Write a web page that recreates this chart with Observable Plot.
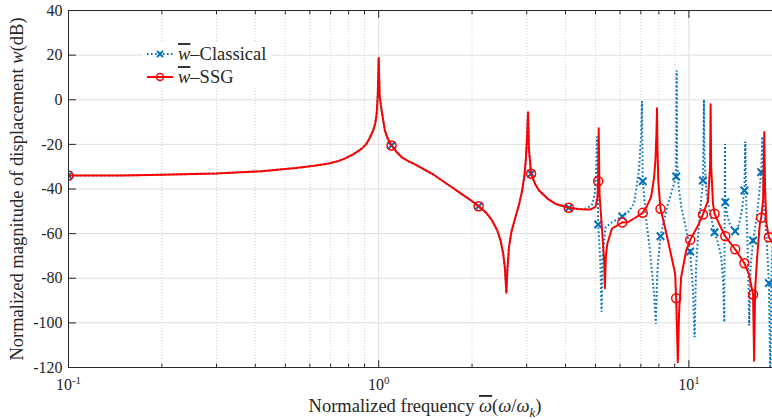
<!DOCTYPE html>
<html><head><meta charset="utf-8">
<script src="https://cdn.jsdelivr.net/npm/d3@7"></script>
<script src="https://cdn.jsdelivr.net/npm/@observablehq/plot@0.6"></script>
<style>
body{margin:0;background:#fff;}
#chart svg{display:block;}
</style></head><body><div id="chart"></div>
<script>
// ---- data (frequency ω̄, magnitude dB) ----
const sharedLow = [
  [0.1,-34.0],[0.15,-33.9],[0.2,-33.6],[0.3,-33.0],[0.42,-32.0],[0.54,-30.6],[0.62,-29.6],[0.69,-28.6],
  [0.74,-27.5],[0.78,-26.3],[0.83,-24.4],[0.88,-22.0],[0.91,-20.0],[0.93,-17.8],[0.96,-13.8],[0.975,-10.5],
  [0.985,-6.3],[0.993,2.0],[1.0,18.7],[1.007,2.0],[1.015,-2.0],[1.022,-4.8],[1.047,-13.8],[1.07,-17.5],
  [1.1,-20.5],[1.15,-23.9],[1.19,-25.9],[1.25,-27.6],[1.31,-29.0],[1.4,-31.2],[1.5,-33.5],[1.68,-38.2],
  [1.95,-44.4],[2.1,-47.7],[2.22,-50.6],[2.32,-54.1],[2.41,-58.5],[2.47,-63.0],[2.52,-69.0],[2.55,-75.0],
  [2.58,-86.5],[2.6,-76.0],[2.63,-66.0],[2.68,-59.0],[2.76,-52.6],[2.84,-46.5],[2.9,-40.7],[2.95,-34.0],
  [2.98,-27.0],[3.01,-16.0],[3.03,-5.6],[3.05,-22.0],[3.1,-33.2],[3.2,-38.0],[3.29,-40.7],[3.5,-44.3],
  [3.72,-46.7],[4.1,-48.4],[4.4,-49.0]
];
const classicalHigh = [
  [4.6,-49.0],[4.8,-47.8],[4.89,-46.7],[4.97,-42.0],[5.02,-33.0],[5.06,-16.5],[5.08,-35.0],[5.1,-55.9],
  [5.18,-72.0],[5.23,-95.0],[5.27,-70.0],[5.39,-57.1],[5.65,-54.9],[6.1,-52.3],[6.4,-50.0],[6.66,-46.5],
  [6.9,-31.7],[7.02,-15.0],[7.06,-0.6],[7.08,-20.0],[7.1,-36.5],[7.3,-55.0],[7.47,-66.0],[7.72,-87.0],
  [7.82,-100.4],[7.9,-80.0],[7.95,-73.4],[8.1,-61.2],[8.5,-48.2],[8.85,-40.0],[9.0,-36.5],[9.1,-34.4],
  [9.13,13.1],[9.16,-28.0],[9.25,-38.0],[9.45,-48.0],[9.8,-58.0],[10.1,-68.0],[10.3,-85.0],[10.43,-106.4],
  [10.55,-75.0],[10.7,-61.6],[10.9,-48.0],[11.1,-36.2],[11.15,-18.0],[11.18,0.0],[11.22,-25.0],[11.4,-42.0],
  [11.7,-51.0],[12.1,-59.4],[12.4,-64.0],[12.72,-70.6],[12.9,-82.0],[13.0,-99.7],[13.04,-60.0],[13.07,-19.8],
  [13.1,-45.9],[13.3,-52.0],[13.6,-56.5],[14.1,-58.9],[14.5,-56.0],[14.8,-50.0],[15.1,-40.7],[15.2,-18.7],
  [15.3,-45.0],[15.5,-72.0],[15.65,-101.2],[15.8,-76.0],[16.1,-63.1],[16.6,-51.0],[16.9,-40.0],[17.1,-32.5],
  [17.25,-16.5],[17.35,-40.0],[17.5,-50.0],[17.8,-62.0],[18.1,-82.2],[18.3,-125.0],[18.45,-80.0],[18.7,-55.0],
  [19.0,-35.0]
];
const ssgHigh = [
  [4.6,-49.2],[4.8,-49.2],[5.0,-48.0],[5.07,-44.0],[5.1,-36.5],[5.12,-12.8],[5.15,-42.0],[5.25,-58.6],
  [5.33,-72.0],[5.36,-84.5],[5.4,-70.0],[5.46,-64.4],[5.65,-57.7],[6.1,-55.0],[6.35,-54.9],[6.7,-53.0],
  [7.1,-50.7],[7.3,-48.0],[7.55,-43.7],[7.72,-35.0],[7.8,-27.2],[7.86,-15.0],[7.89,-3.8],[7.92,-22.0],
  [7.97,-37.0],[8.1,-48.9],[8.4,-58.0],[8.7,-67.6],[9.03,-78.0],[9.1,-89.0],[9.21,-117.6],[9.3,-95.0],
  [9.44,-79.5],[9.8,-67.6],[10.1,-62.8],[10.7,-56.4],[11.1,-51.4],[11.52,-45.2],[11.7,-30.0],[11.75,-2.0],
  [11.8,-30.0],[11.96,-46.7],[12.1,-51.1],[12.6,-56.5],[13.1,-61.2],[14.1,-67.0],[15.1,-73.3],[15.6,-78.0],
  [16.1,-87.3],[16.23,-117.0],[16.35,-85.0],[16.6,-70.6],[16.93,-55.6],[17.1,-52.9],[17.35,-45.0],[17.5,-14.5],
  [17.6,-40.0],[17.79,-55.6],[18.1,-61.6],[18.6,-64.0],[19.0,-66.0]
];
const markerFreqs = [0.1,1.1,2.1,3.1,4.1,5.1,6.1,7.1,8.1,9.1,10.1,11.1,12.1,13.1,14.1,15.1,16.1,17.1,18.1];
const seriesNames = ["w–Classical", "w–SSG"];
const xDomain = [0.1, 18.6];
const yDomain = [-120, 40];
const xMajorTicks = [0.1, 1, 10];
const xMinorTicks = [0.2,0.3,0.4,0.5,0.6,0.7,0.8,0.9,2,3,4,5,6,7,8,9];
const yTicks = [-120,-100,-80,-60,-40,-20,0,20,40];

// ---- build tables ----
const rows = (arr, s) => arr.map(([f, db]) => ({f, db, s}));
const classical = rows(sharedLow.concat(classicalHigh), seriesNames[0]);
const ssg = rows(sharedLow.concat(ssgHigh), seriesNames[1]);
const markerSet = new Set(markerFreqs);
const isMarker = d => markerSet.has(d.f);

const BLUE = "#0072BD", RED = "#FF0000", AX = "#262626";
const SERIF = "'Liberation Serif','Times New Roman',serif";
const DOTS = "1.6,2.4";
const tickShape = {draw(ctx, l) { ctx.moveTo(0, 0); ctx.lineTo(0, -l); }};
const tickMarks = (vals, opts) => Plot.vector(vals, {anchor: "start", shape: tickShape, stroke: AX, strokeWidth: 1, ...opts});

const plot = Plot.plot({
  width: 772, height: 419,
  marginLeft: 68, marginRight: 0, marginTop: 10, marginBottom: 52,
  x: {type: "log", domain: xDomain},
  y: {domain: yDomain},
  style: {fontFamily: SERIF, fontSize: "16px", color: AX, background: "white", overflow: "visible"},
  marks: [
    Plot.ruleX(xMinorTicks, {stroke: "#cfcfcf", strokeDasharray: "1,2"}),
    Plot.ruleX(xMajorTicks, {stroke: "#dedede"}),
    Plot.ruleY(yTicks, {stroke: "#dedede"}),
    Plot.line(classical, {x: "f", y: "db", stroke: BLUE, strokeWidth: 2, strokeDasharray: DOTS,
      strokeLinecap: "butt", strokeLinejoin: "miter", clip: true}),
    Plot.dot(classical, {filter: isMarker, x: "f", y: "db", symbol: "times", r: 3.5, stroke: BLUE, strokeWidth: 2, clip: true}),
    Plot.line(ssg, {x: "f", y: "db", stroke: RED, strokeWidth: 2, clip: true}),
    Plot.dot(ssg, {filter: isMarker, x: "f", y: "db", symbol: "circle", r: 4.5, stroke: RED, strokeWidth: 1.5, fill: "none", clip: true}),
    // box lines
    Plot.ruleY(yDomain, {stroke: AX}),
    Plot.ruleX([xDomain[0]], {stroke: AX}),
    // inward ticks
    tickMarks(xMajorTicks, {x: d => d, frameAnchor: "bottom", length: 7, rotate: 0}),
    tickMarks(xMinorTicks, {x: d => d, frameAnchor: "bottom", length: 3.5, rotate: 0}),
    tickMarks(xMajorTicks, {x: d => d, frameAnchor: "top", length: 7, rotate: 180}),
    tickMarks(xMinorTicks, {x: d => d, frameAnchor: "top", length: 3.5, rotate: 180}),
    tickMarks(yTicks, {y: d => d, frameAnchor: "left", length: 7, rotate: 90}),
    Plot.axisX({ticks: xMajorTicks, tickSize: 0, tickPadding: 11, label: null,
      tickFormat: d => String(Math.round(Math.log10(d)))}),
    Plot.axisY({ticks: yTicks, tickSize: 0, tickPadding: 6, label: null, tickFormat: d => String(d)})
  ]
});
document.getElementById("chart").appendChild(plot);

const svg = d3.select(plot);
// exponent labels 10^n
svg.selectAll('g[aria-label="x-axis tick label"] text').each(function() {
  const t = d3.select(this);
  const exp = t.text();
  t.text(null);
  t.append("tspan").text("10");
  t.append("tspan").attr("dy", "-0.5em").attr("font-size", "0.68em").text(exp);
});

const lab = svg.append("g").attr("font-family", SERIF).attr("fill", AX).attr("font-size", 18.5);
const xl = lab.append("text").attr("x", 425).attr("y", 412).attr("text-anchor", "middle");
xl.append("tspan").text("Normalized frequency ");
xl.append("tspan").attr("font-style", "italic").style("text-decoration", "overline").text("ω");
xl.append("tspan").text("(");
xl.append("tspan").attr("font-style", "italic").text("ω");
xl.append("tspan").text("/");
xl.append("tspan").attr("font-style", "italic").text("ω");
xl.append("tspan").attr("font-style", "italic").attr("font-size", "0.7em").attr("dy", "0.35em").text("k");
xl.append("tspan").attr("dy", "-0.25em").text(")");

const yl = lab.append("text").attr("transform", "translate(23,189) rotate(-90)").attr("text-anchor", "middle");
yl.append("tspan").text("Normalized magnitude of displacement ");
yl.append("tspan").attr("font-style", "italic").text("w");
yl.append("tspan").text("(dB)");

// legend
const lg = svg.append("g").attr("font-family", SERIF).attr("font-size", 18.5).attr("fill", AX).attr("text-anchor", "start");
lg.append("rect").attr("x", 143).attr("y", 43).attr("width", 128).attr("height", 45).attr("fill", "white");
const legendRows = [
  {name: seriesNames[0], y: 54, color: BLUE, dash: DOTS, sym: "times"},
  {name: seriesNames[1], y: 77, color: RED, dash: null, sym: "circle"}
];
legendRows.forEach(r => {
  lg.append("line").attr("x1", 147).attr("x2", 173).attr("y1", r.y).attr("y2", r.y)
    .attr("stroke", r.color).attr("stroke-width", 2).attr("stroke-dasharray", r.dash);
  if (r.sym === "times") {
    lg.append("path").attr("d", "M-3,-3L3,3M-3,3L3,-3").attr("transform", `translate(160,${r.y})`)
      .attr("stroke", r.color).attr("stroke-width", 2).attr("fill", "none");
  } else {
    lg.append("circle").attr("cx", 160).attr("cy", r.y).attr("r", 3.5)
      .attr("stroke", r.color).attr("stroke-width", 1.5).attr("fill", "none");
  }
  const t = lg.append("text").attr("x", 178).attr("y", r.y).attr("dy", "0.33em");
  t.append("tspan").attr("font-style", "italic").style("text-decoration", "overline").text(r.name.slice(0, 1));
  t.append("tspan").text(r.name.slice(1));
});
</script>
</body></html>
